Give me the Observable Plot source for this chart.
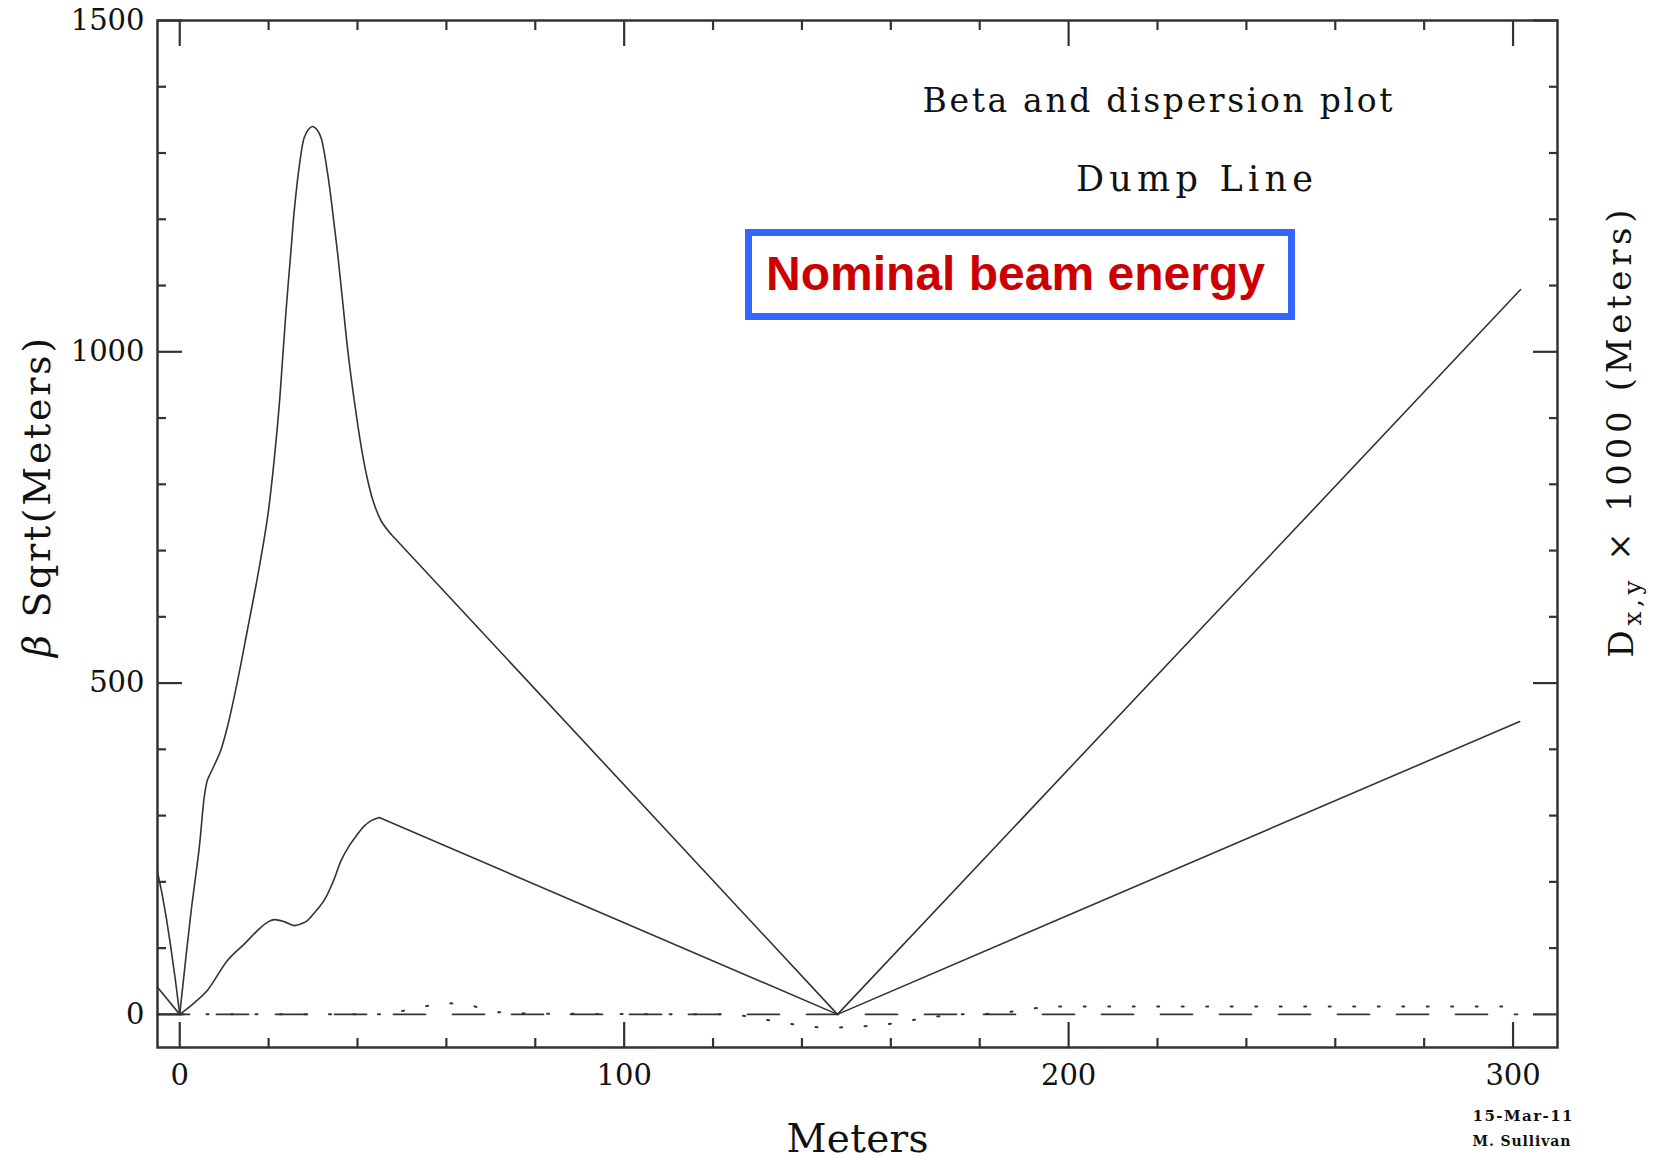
<!DOCTYPE html>
<html>
<head>
<meta charset="utf-8">
<script src="https://cdn.jsdelivr.net/npm/d3@7"></script>
<script src="https://cdn.jsdelivr.net/npm/@observablehq/plot@0.6"></script>
<style>
  html, body { margin: 0; padding: 0; background: #fff; }
  #wrap { position: relative; width: 1662px; height: 1160px; overflow: hidden; }
  #note {
    position: absolute; left: 745px; top: 229px; width: 550px; height: 91px;
    box-sizing: border-box; border: 7px solid #3366ff; background: #fff;
    display: flex; align-items: center; justify-content: center;
    font-family: "Liberation Sans", Arial, sans-serif; font-weight: bold;
    font-size: 48px; color: #cc0000; padding-right: 9px; padding-bottom: 2px;
  }
</style>
</head>
<body>
<div id="wrap"></div>
<script>
// ---- data ----
const sBetaX = [-5, -4, -3, -2, -1, 0, 2.5, 4.4, 5.5, 6.2, 7.0, 9.2, 10.7, 13.0, 15.2, 17.5, 19.8, 21.3, 22.4, 23.1, 23.9, 25.0, 25.8, 27.0, 28.0, 29.0, 29.9, 30.9, 31.8, 33.3, 34.4, 35.5, 36.6, 37.8, 39.3, 40.8, 42.0, 43.5, 45.3, 47.5, 148, 301.7];
const betaX  = [215, 183, 145, 101, 53, 0, 152, 252, 327, 353, 365, 398, 433, 503, 579, 660, 752, 840, 920, 985, 1060, 1150, 1215, 1285, 1323, 1336, 1340, 1335, 1323, 1268, 1212, 1150, 1080, 1003, 925, 858, 815, 775, 745, 725, 0, 1094];

const sBetaY = [-5, 0, 3, 6.2, 10.7, 14.5, 18.2, 20, 21.3, 23.5, 25.8, 27.5, 28.8, 30.5, 32.5, 34.5, 36.3, 38.2, 40.0, 41.5, 43.0, 44.9, 148, 301.5];
const betaY  = [41, 0, 16, 36, 81, 106, 131, 140, 143, 140, 134, 137, 142, 155, 172, 200, 232, 255, 272, 284, 292, 297, 0, 442];

const sDispX = [-5, 0, 47, 50, 55, 60, 65, 70, 75, 80, 120, 125, 131, 136, 142, 147, 152, 158, 163, 169, 175, 180, 185, 191, 196, 301];
const dispX  = [0, 0, 0, 5, 12, 17, 15, 4, 2, 1, 0, 0, -7, -13, -19, -20, -19, -16, -11, -4, 0, 0, 2, 8, 12, 12];

const sDispY = [-5, 301];
const dispY  = [0, 0];

const majorXTicks = [0, 100, 200, 300];
const minorXTicks = [20, 40, 60, 80, 120, 140, 160, 180, 220, 240, 260, 280];
const majorYTicks = [0, 500, 1000, 1500];
const minorYTicks = [100, 200, 300, 400, 600, 700, 800, 900, 1100, 1200, 1300, 1400];

const titleText = "Beta and dispersion plot";
const subtitleText = "Dump Line";
const noteText = "Nominal beam energy";
const xLabel = "Meters";
const yLabel = "β Sqrt(Meters)";
const y2LabelMain = "D";
const y2LabelSub = "x,y";
const y2LabelRest = " × 1000 (Meters)";
const dateText = "15-Mar-11";
const authorText = "M. Sullivan";

// ---- build ----
const rows = (s, v) => s.map((d, i) => ({s: d, v: v[i]}));
const ink = "#333";
const serif = "DejaVu Serif";
const y2Label = y2LabelMain + y2LabelSub + y2LabelRest;

const bx = rows(sBetaX, betaX);
const by = rows(sBetaY, betaY);
const humpEndX = 47.5, humpEndY = 44.9;

const chart = Plot.plot({
  width: 1662, height: 1160,
  marginLeft: 157, marginRight: 105, marginTop: 20, marginBottom: 113,
  x: {domain: [-5, 310], label: null},
  y: {domain: [-50, 1500], label: null},
  style: {fontFamily: serif, color: ink, background: "white", overflow: "visible"},
  marks: [
    // dispersion
    Plot.line(rows(sDispY, dispY), {x: "s", y: "v", stroke: ink, strokeWidth: 1.8, strokeDasharray: "32,27"}),
    Plot.line(rows(sDispX, dispX), {x: "s", y: "v", stroke: ink, strokeWidth: 2, strokeDasharray: "2,22.5"}),
    // beta functions: straight drifts + smooth humps
    Plot.line(bx.filter(d => d.s <= 0), {x: "s", y: "v", stroke: ink, strokeWidth: 1.6}),
    Plot.line(bx.filter(d => d.s >= 0 && d.s <= humpEndX), {x: "s", y: "v", stroke: ink, strokeWidth: 1.6, curve: "catmull-rom"}),
    Plot.line(bx.filter(d => d.s >= humpEndX), {x: "s", y: "v", stroke: ink, strokeWidth: 1.6}),
    Plot.line(by.filter(d => d.s <= 0), {x: "s", y: "v", stroke: ink, strokeWidth: 1.6}),
    Plot.line(by.filter(d => d.s >= 0 && d.s <= humpEndY), {x: "s", y: "v", stroke: ink, strokeWidth: 1.6, curve: "catmull-rom"}),
    Plot.line(by.filter(d => d.s >= humpEndY), {x: "s", y: "v", stroke: ink, strokeWidth: 1.6}),
    // axes ticks (inward)
    Plot.axisX(majorXTicks, {anchor: "bottom", tickSize: -25, fill: "none", label: null, stroke: ink, strokeWidth: 2.2}),
    Plot.axisX(minorXTicks, {anchor: "bottom", tickSize: -9, fill: "none", label: null, stroke: ink, strokeWidth: 2.2}),
    Plot.axisX(majorXTicks, {anchor: "top", tickSize: -25, fill: "none", label: null, stroke: ink, strokeWidth: 2.2}),
    Plot.axisX(minorXTicks, {anchor: "top", tickSize: -9, fill: "none", label: null, stroke: ink, strokeWidth: 2.2}),
    Plot.axisX(majorXTicks, {anchor: "bottom", tickSize: 0, tickPadding: 17, label: null, fontSize: 29, fill: "#111", fontFamily: serif, tickFormat: d => String(d)}),
    Plot.axisY(majorYTicks, {anchor: "left", tickSize: -25, fill: "none", label: null, stroke: ink, strokeWidth: 2.2}),
    Plot.axisY(minorYTicks, {anchor: "left", tickSize: -9, fill: "none", label: null, stroke: ink, strokeWidth: 2.2}),
    Plot.axisY(majorYTicks, {anchor: "right", tickSize: -25, fill: "none", label: null, stroke: ink, strokeWidth: 2.2}),
    Plot.axisY(minorYTicks, {anchor: "right", tickSize: -9, fill: "none", label: null, stroke: ink, strokeWidth: 2.2}),
    Plot.axisY(majorYTicks, {anchor: "left", tickSize: 0, tickPadding: 13, label: null, fontSize: 29, fill: "#111", fontFamily: serif, tickFormat: d => String(d)}),
    Plot.frame({stroke: ink, strokeWidth: 2.5}),
    // texts
    Plot.text([titleText], {text: d => d, frameAnchor: "top-left", dx: 1000, dy: 91, textAnchor: "middle", lineAnchor: "bottom", fontSize: 33, fill: "#111"}),
    Plot.text([subtitleText], {text: d => d, frameAnchor: "top-left", dx: 1037, dy: 170, textAnchor: "middle", lineAnchor: "bottom", fontSize: 35, fill: "#111"}),
    Plot.text([xLabel], {text: d => d, frameAnchor: "top-left", dx: 700, dy: 1131, textAnchor: "middle", lineAnchor: "bottom", fontSize: 39, fill: "#111"}),
    Plot.text([yLabel], {text: d => d, frameAnchor: "top-left", dx: -120, dy: 477, rotate: -90, textAnchor: "middle", lineAnchor: "middle", fontSize: 38, fill: "#111"}),
    Plot.text([y2Label], {text: d => d, frameAnchor: "top-left", dx: 1465, dy: 413, rotate: -90, textAnchor: "middle", lineAnchor: "middle", fontSize: 34, fill: "#111"}),
    Plot.text([dateText], {text: d => d, frameAnchor: "top-left", dx: 1365, dy: 1096, textAnchor: "middle", lineAnchor: "middle", fontSize: 15, fontWeight: "bold", fill: "#111"}),
    Plot.text([authorText], {text: d => d, frameAnchor: "top-left", dx: 1364, dy: 1121, textAnchor: "middle", lineAnchor: "middle", fontSize: 14, fontWeight: "bold", fill: "#111"})
  ]
});

// text widths to mimic the wide stroke font of the original
const lengths = {};
lengths[titleText] = 470;
lengths[subtitleText] = 237;
lengths[xLabel] = 142;
lengths[yLabel] = 319;
lengths[y2Label] = 448;
lengths[dateText] = 100;
lengths[authorText] = 98;

d3.select(chart).selectAll("text").each(function() {
  const t = this.textContent;
  if (lengths[t]) {
    this.setAttribute("textLength", lengths[t]);
    this.setAttribute("lengthAdjust", "spacing");
  }
  if (t === y2Label) {
    this.textContent = "";
    const sel = d3.select(this);
    sel.append("tspan").text(y2LabelMain);
    sel.append("tspan").attr("dy", "0.3em").attr("font-size", "0.72em").text(y2LabelSub);
    sel.append("tspan").attr("dy", "-0.3em").text(y2LabelRest);
  }
  if (t === yLabel) {
    this.textContent = "";
    const sel = d3.select(this);
    sel.append("tspan").attr("font-style", "italic").text(yLabel.slice(0, 1));
    sel.append("tspan").text(yLabel.slice(1));
  }
});

const wrap = document.getElementById("wrap");
wrap.appendChild(chart);
const note = document.createElement("div");
note.id = "note";
note.textContent = noteText;
wrap.appendChild(note);
</script>
</body>
</html>
